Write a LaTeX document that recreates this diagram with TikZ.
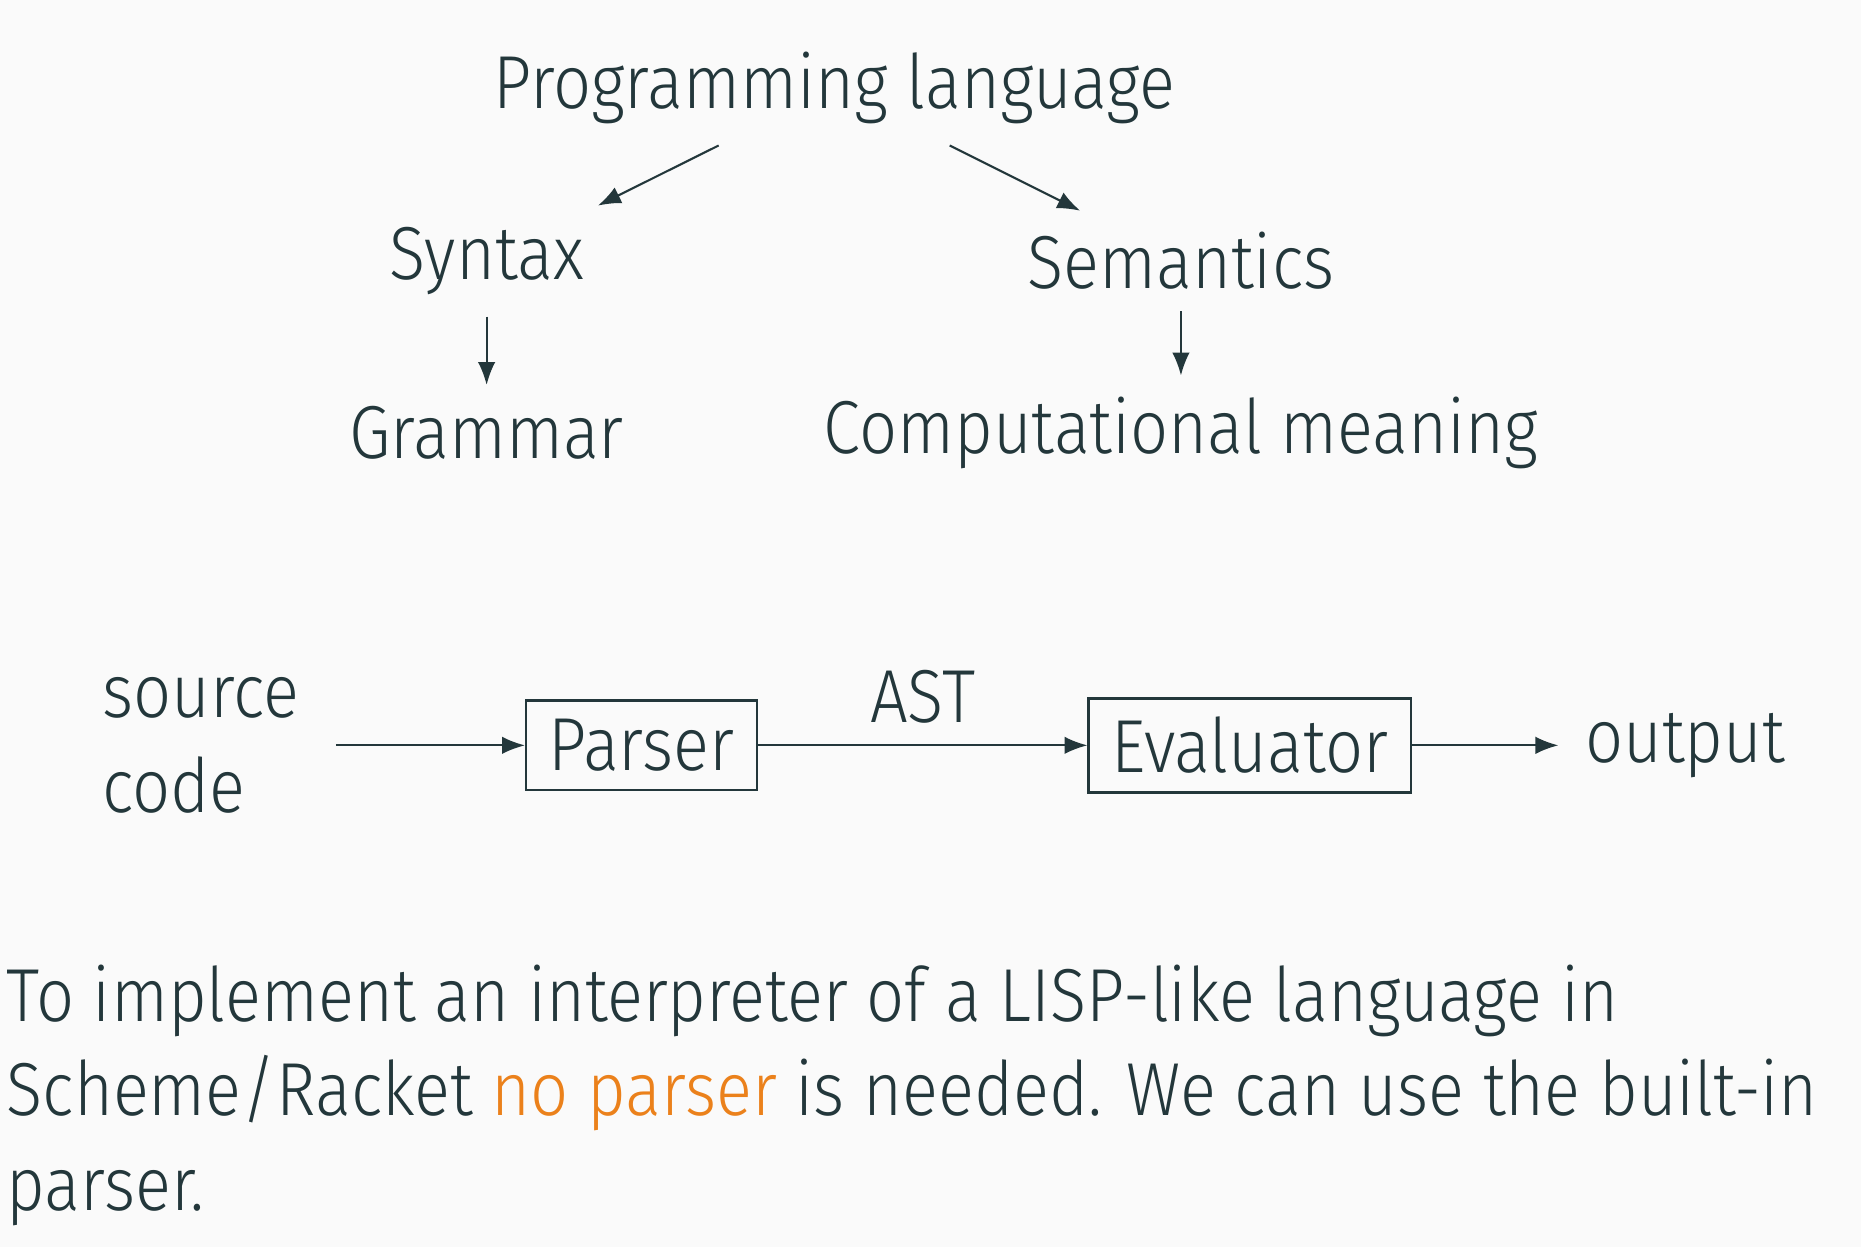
\documentclass[tikz,border=0pt]{standalone}
\usepackage{fontspec}
\setmainfont{Fira Sans Light}[FakeStretch=0.89]
\usetikzlibrary{arrows.meta}
\definecolor{darkteal}{HTML}{23373B}
\definecolor{alertorange}{HTML}{EB811B}
\definecolor{slidebg}{HTML}{FAFAFA}

\begin{document}
\begin{tikzpicture}[
        txt/.style={font=\fontsize{18}{22.7}\selectfont, text=darkteal},
        word/.style={txt, inner sep=5pt},
        block/.style={txt, draw=darkteal, line width=0.6pt, inner xsep=5.4pt, inner ysep=4.5pt},
        arr/.style={-{Latex[length=5.5pt,width=4.2pt]}, darkteal, line width=0.5pt}]
            \fill[slidebg] (0,0) rectangle (15.68,10.51);
            \useasboundingbox (0,0) rectangle (15.68,10.51);

            \node[word] (prog) at (7.03,9.77) {Programming language};
            \node[word] (syntax) at (4.10,8.31) {Syntax};
            \node[word] (sem) at (9.95,8.31) {Semantics};
            \node[word] (gram) at (4.10,6.86) {Grammar};
            \node[word] (comp) at (9.95,6.86) {Computational meaning};

            \draw[arr] (prog) -- (syntax);
            \draw[arr] (prog) -- (sem);
            \draw[arr] (syntax) -- (gram);
            \draw[arr] (sem) -- (comp);

            \node[txt, anchor=east, inner sep=0pt, text width=1.96cm, align=left] (src) at (2.83,4.23) {source\\code};
            \node[block] (parser) at (5.405,4.23) {Parser};
            \node[block] (eval) at (10.53,4.23) {Evaluator};
            \node[txt, anchor=west, inner sep=0.22cm] (out) at (13.13,4.23) {output};

            \draw[arr] (src) -- (parser);
            \draw[arr] (parser) -- node[word, above] (ast) {AST} (eval);
            \draw[arr] (eval) -- (out);

            % base of a multi-line node is its last line
            \node[txt, anchor=base west, align=left, inner sep=0pt] (para) at (0.05,0.31)
                {To implement an interpreter of a LISP-like language in\\
                 Scheme/Racket \textcolor{alertorange}{no parser} is needed. We can use the built-in\\
                 parser.};
\end{tikzpicture}
\end{document}
